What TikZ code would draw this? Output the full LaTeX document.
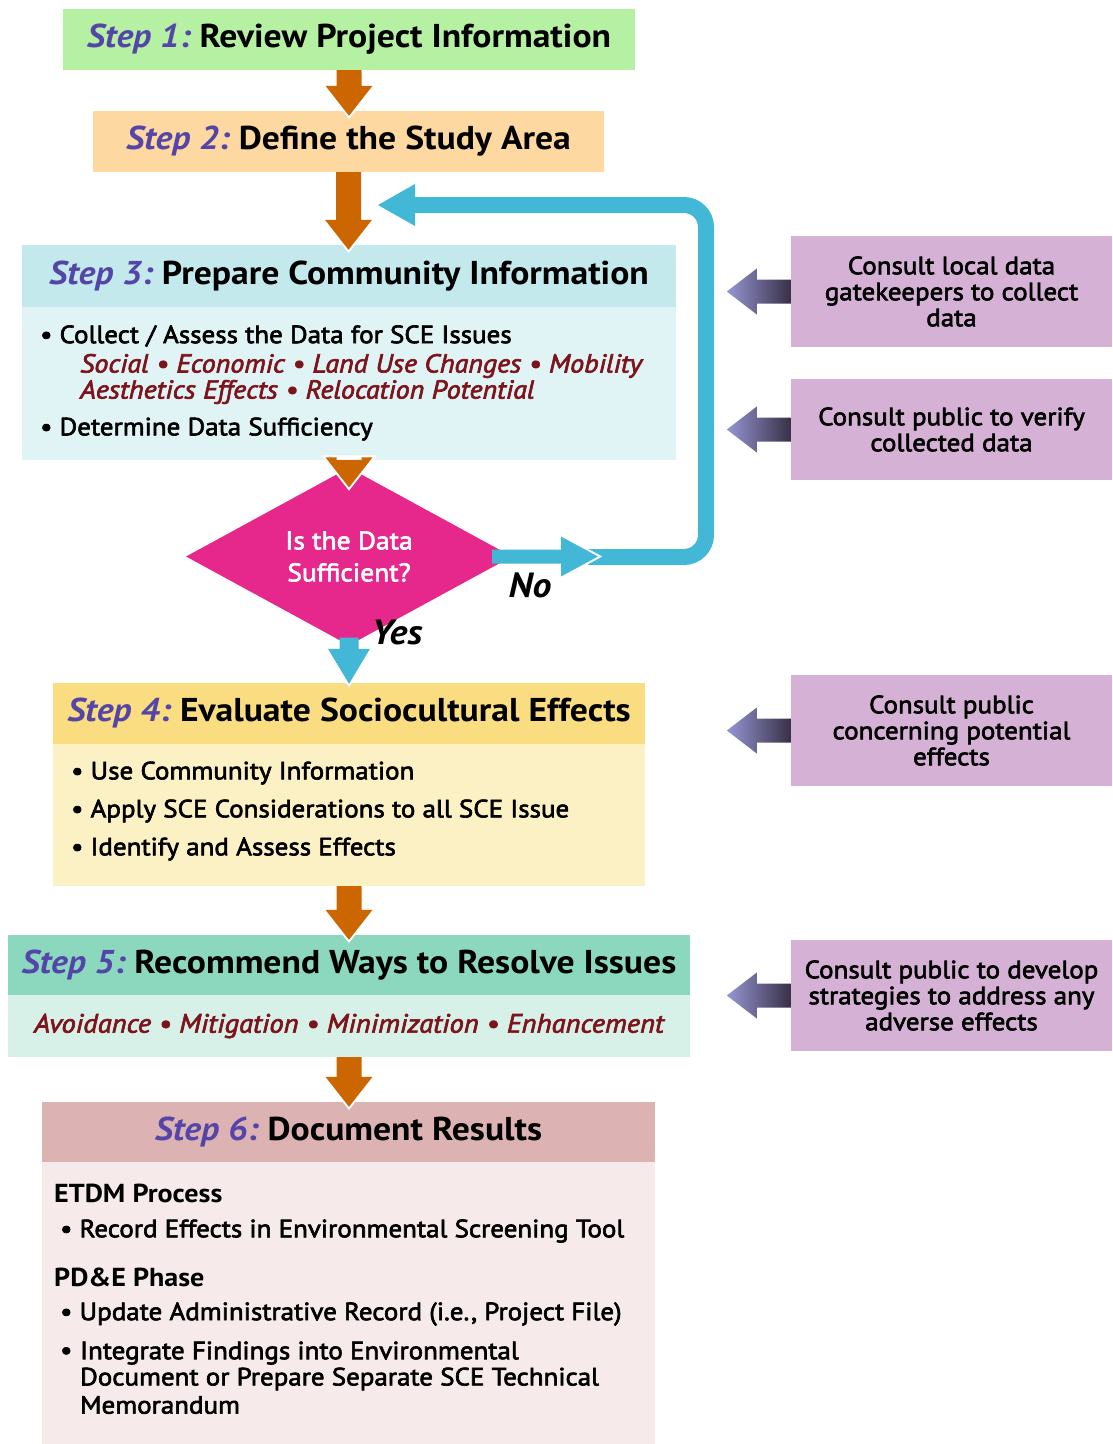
\documentclass[tikz,border=0pt]{standalone}
\usepackage{fontspec}
\setmainfont{PT Sans}[FakeStretch=1.08]
\newfontfamily\semif{PT Sans}[FakeStretch=1.08, FakeBold=2.5]
\usetikzlibrary{arrows.meta,shapes.geometric,calc}
\definecolor{stepc}{RGB}{84,70,168}
\definecolor{redit}{RGB}{125,20,28}
\definecolor{g1}{RGB}{181,240,163}
\definecolor{o2}{RGB}{253,216,160}
\definecolor{t3h}{RGB}{196,233,236}
\definecolor{t3b}{RGB}{224,243,245}
\definecolor{y4h}{RGB}{250,221,128}
\definecolor{y4b}{RGB}{252,241,196}
\definecolor{g5h}{RGB}{140,216,190}
\definecolor{g5b}{RGB}{216,241,232}
\definecolor{p6h}{RGB}{221,178,178}
\definecolor{p6b}{RGB}{246,234,234}
\definecolor{pboxc}{RGB}{213,177,214}
\definecolor{orA}{RGB}{204,102,0}
\definecolor{cyA}{RGB}{66,183,214}
\definecolor{magA}{RGB}{230,40,140}
\definecolor{lavL}{RGB}{150,150,212}
\definecolor{lavM}{RGB}{118,112,170}
\definecolor{lavD}{RGB}{55,48,70}
\newcommand\titlef{\fontsize{33}{36}\selectfont\bfseries}
\newcommand\bodyf{\semif\fontsize{25}{26}\selectfont}
\newcommand\redf{\semif\fontsize{26.5}{26}\selectfont\itshape}
\newcommand\redsf{\semif\fontsize{26}{26}\selectfont\itshape}
\newcommand\stplbl[1]{\textcolor{stepc}{\itshape #1}\hspace{0.27em}}
\newcommand\fatdown[7]{%
  \path[draw=white, line width=#7, line join=miter, miter limit=10] let \p1=(#1), \p2=(#2) in
    (\x1-#4,\y2+#5) -- (\x1,\y2) -- (\x1+#4,\y2+#5) -- cycle;
  \fill[#6] let \p1=(#1), \p2=(#2) in
    (\x1-#3,\y1) -- (\x1-#3,\y2+#5) -- (\x1-#4,\y2+#5) -- (\x1,\y2) -- (\x1+#4,\y2+#5) -- (\x1+#3,\y2+#5) -- (\x1+#3,\y1) -- cycle;}
\newcommand\fatright[7]{%
  \path[draw=white, line width=#7, line join=miter, miter limit=10] let \p1=(#1), \p2=(#2) in
    (\x2-#5,\y1-#4) -- (\x2,\y1) -- (\x2-#5,\y1+#4) -- cycle;
  \fill[#6] let \p1=(#1), \p2=(#2) in
    (\x1,\y1-#3) -- (\x2-#5,\y1-#3) -- (\x2-#5,\y1-#4) -- (\x2,\y1) -- (\x2-#5,\y1+#4) -- (\x2-#5,\y1+#3) -- (\x1,\y1+#3) -- cycle;}
\newcommand\purparrow[1]{%
  \shade[left color=lavL, middle color=lavM, right color=lavD] let \p1=(#1) in
    (\x1,\y1+12pt) -- (\x1-34pt,\y1+12pt) -- (\x1-34pt,\y1+23pt) -- (\x1-64pt,\y1) -- (\x1-34pt,\y1-23pt) -- (\x1-34pt,\y1-12pt) -- (\x1,\y1-12pt) -- cycle;}
\tikzset{
  hdr/.style={rectangle, inner sep=0pt, font=\titlef},
  bdy/.style={rectangle, inner sep=0pt},
  txt/.style={inner sep=0pt, anchor=west, font=\bodyf},
  rtxt/.style={inner sep=0pt, anchor=west, font=\redsf, text=redit},
  pbx/.style={rectangle, fill=pboxc, inner sep=0pt, minimum width=321pt, align=center, font=\bodyf},
  lbl/.style={inner sep=0pt, font=\fontsize{35}{35}\selectfont\bfseries\itshape},
  subh/.style={inner sep=0pt, anchor=west, font=\fontsize{26}{26}\selectfont\bfseries},
}
\begin{document}
\begin{tikzpicture}[x=1pt,y=-1pt]
\useasboundingbox (0,0) rectangle (1112,1444);
% step boxes
\node[hdr, fill=g1, minimum width=572pt, minimum height=61pt] (s1) at (349,39.5) {\stplbl{Step 1:}Review Project Information};
\node[hdr, fill=o2, minimum width=511pt, minimum height=61pt] (s2) at (348.5,141.5) {\stplbl{Step 2:}Define the Study Area};
\node[hdr, fill=t3h, minimum width=654pt, minimum height=62pt] (s3) at (349,276) {\stplbl{Step 3:}Prepare Community Information};
\node[bdy, fill=t3b, minimum width=654pt, minimum height=153pt] (s3b) at (349,383.5) {};
\node[txt] (s3i1) at (40,336) {\textbullet\ Collect / Assess the Data for SCE Issues};
\node[rtxt] (s3r1) at (80,366) {Social \textbullet\ Economic \textbullet\ Land Use Changes \textbullet\ Mobility};
\node[rtxt] (s3r2) at (80,392) {Aesthetics Effects \textbullet\ Relocation Potential};
\node[txt] (s3i2) at (40,429) {\textbullet\ Determine Data Sufficiency};
\node[diamond, fill=magA, inner sep=0pt, minimum width=326pt, minimum height=128pt, text=white, align=center, font=\semif\fontsize{25.5}{32}\selectfont] (dia) at (349,556.5) {Is the Data\\Sufficient?};
\node[hdr, fill=y4h, minimum width=592pt, minimum height=61pt] (s4) at (349,713.5) {\stplbl{Step 4:}Evaluate Sociocultural Effects};
\node[bdy, fill=y4b, minimum width=592pt, minimum height=142pt] (s4b) at (349,815) {};
\node[txt] (s4i1) at (71,773) {\textbullet\ Use Community Information};
\node[txt] (s4i2) at (71,811) {\textbullet\ Apply SCE Considerations to all SCE Issue};
\node[txt] (s4i3) at (71,849) {\textbullet\ Identify and Assess Effects};
\node[hdr, fill=g5h, minimum width=682pt, minimum height=60pt] (s5) at (349,965) {\stplbl{Step 5:}Recommend Ways to Resolve Issues};
\node[bdy, fill=g5b, minimum width=682pt, minimum height=62pt, font=\redf, text=redit] (s5b) at (349,1026) {Avoidance \textbullet\ Mitigation \textbullet\ Minimization \textbullet\ Enhancement};
\node[hdr, fill=p6h, minimum width=613pt, minimum height=60pt] (s6) at (348.5,1132) {\stplbl{Step 6:}Document Results};
\node[bdy, fill=p6b, minimum width=613pt, minimum height=282pt] (s6b) at (348.5,1303) {};
\node[subh] (etdm) at (54,1193) {ETDM Process};
\node[txt] (s6i1) at (60,1231) {\textbullet\ Record Effects in Environmental Screening Tool};
\node[subh] (pde) at (54,1277) {PD\&E Phase};
\node[txt] (s6i2) at (60,1314) {\textbullet\ Update Administrative Record (i.e., Project File)};
\node[txt] (s6i3) at (60,1353) {\textbullet};
\node[txt] (s6i3a) at (80,1353) {Integrate Findings into Environmental};
\node[txt] (s6i3b) at (80,1379) {Document or Prepare Separate SCE Technical};
\node[txt] (s6i3c) at (80,1405) {Memorandum};
% consult boxes
\node[pbx, minimum height=111pt] (pA) at (951.5,291.5) {Consult local data\\gatekeepers to collect\\data};
\node[pbx, minimum height=101pt] (pB) at (951.5,429.5) {Consult public to verify\\collected data};
\node[pbx, minimum height=111pt] (pC) at (951.5,730.5) {Consult public\\concerning potential\\effects};
\node[pbx, minimum height=111pt] (pD) at (951.5,995.5) {Consult public to develop\\strategies to address any\\adverse effects};
\purparrow{pA.west}
\purparrow{pB.west}
\purparrow{pC.west}
\purparrow{pD.west}
% orange arrows
\fatdown{s1.south}{$(s2.north)+(0,5)$}{12.5pt}{23.5pt}{30pt}{orA}{4pt}
\fatdown{s2.south}{$(s3.north)+(0,5)$}{12.5pt}{23.5pt}{30pt}{orA}{4pt}
\fatdown{s3b.south}{$(dia.north)+(0,20)$}{12.5pt}{23.5pt}{30pt}{orA}{4pt}
\fatdown{s4b.south}{$(s5.north)+(0,5)$}{12.5pt}{23.5pt}{30pt}{orA}{4pt}
\fatdown{s5b.south}{$(s6.north)+(0,5)$}{12.5pt}{23.5pt}{30pt}{orA}{4pt}
% loop back
\coordinate (loopStart) at (588,557);
\coordinate (loopTurn) at (706,205);
\coordinate (loopTip) at (378,205);
\draw[cyA, line width=16pt, rounded corners=22pt] (loopStart) -| (loopTurn) -- ($(loopTip)+(37,0)$);
\fill[cyA] (loopTip) -- ($(loopTip)+(37,-21)$) -- ($(loopTip)+(37,21)$) -- cycle;
\coordinate (noTip) at (598,557);
\fatright{$(dia.east)+(-20,0)$}{noTip}{7pt}{20pt}{37pt}{cyA}{4pt}
\fatdown{$(dia.south)+(0,-8)$}{$(s4.north)+(0,1)$}{9.5pt}{21pt}{35pt}{cyA}{4pt}
\node[lbl] (nolbl) at (530,585) {No};
\node[lbl] (yeslbl) at (397,632) {Yes};
\end{tikzpicture}
\end{document}
